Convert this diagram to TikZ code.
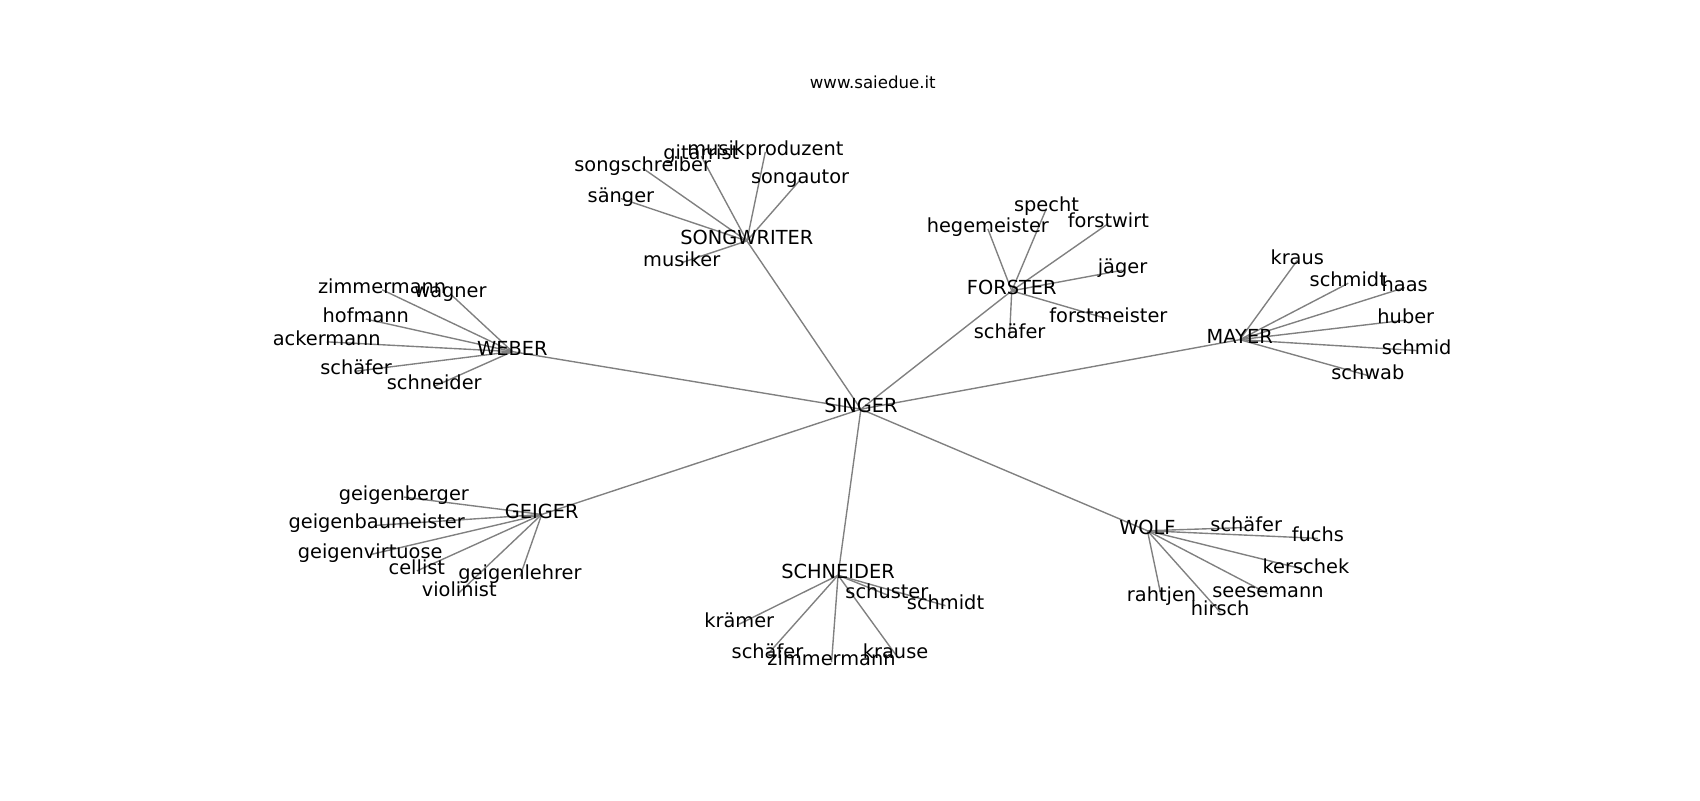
\documentclass[tikz,border=0pt]{standalone}
\usepackage{fontspec}
\setmainfont{DejaVu Sans}
\usepackage{tikz}
\usetikzlibrary{backgrounds}
\definecolor{edgegray}{rgb}{0.5,0.5,0.5}

\begin{document}
\begin{tikzpicture}[x=0.027573cm, y=-0.027573cm,
  lbl/.style={inner sep=0pt, yshift=-0.08cm, text height=0.76em, text depth=0.24em, font=\fontsize{14}{17}\selectfont},
  ttl/.style={inner sep=0pt, font=\fontsize{12}{14}\selectfont},
  edge/.style={draw=edgegray, line width=1pt}]
\useasboundingbox (0,0) rectangle (1566,737);
\node[ttl] (title) at (804,76) {www.saiedue.it};
% hubs
\node[lbl] (singer) at (793,374) {SINGER};
\node[lbl] (songwriter) at (688,219) {SONGWRITER};
\node[lbl] (weber) at (472,321) {WEBER};
\node[lbl] (forster) at (932,265) {FORSTER};
\node[lbl] (mayer) at (1142,310) {MAYER};
\node[lbl] (geiger) at (499,471) {GEIGER};
\node[lbl] (schneider) at (772,527) {SCHNEIDER};
\node[lbl] (wolf) at (1057,486) {WOLF};
% songwriter
\node[lbl] (swProduzent) at (705,137) {musikproduzent};
\node[lbl] (swGitarrist) at (646,141) {gitarrist};
\node[lbl] (swSchreiber) at (592,152) {songschreiber};
\node[lbl] (swAutor) at (737,163) {songautor};
\node[lbl] (swSaenger) at (572,180) {sänger};
\node[lbl] (swMusiker) at (628,239) {musiker};
% weber
\node[lbl] (weZimmermann) at (352,264) {zimmermann};
\node[lbl] (weWagner) at (415,268) {wagner};
\node[lbl] (weHofmann) at (337,291) {hofmann};
\node[lbl] (weAckermann) at (301,312) {ackermann};
\node[lbl] (weSchaefer) at (328,339) {schäfer};
\node[lbl] (weSchneider) at (400,353) {schneider};
% forster
\node[lbl] (foSpecht) at (964,189) {specht};
\node[lbl] (foHegemeister) at (910,208) {hegemeister};
\node[lbl] (foForstwirt) at (1021,203) {forstwirt};
\node[lbl] (foJaeger) at (1034,246) {jäger};
\node[lbl] (foForstmeister) at (1021,291) {forstmeister};
\node[lbl] (foSchaefer) at (930,306) {schäfer};
% mayer
\node[lbl] (maKraus) at (1195,237) {kraus};
\node[lbl] (maSchmidt) at (1242,258) {schmidt};
\node[lbl] (maHaas) at (1294,262) {haas};
\node[lbl] (maHuber) at (1295,292) {huber};
\node[lbl] (maSchmid) at (1305,320) {schmid};
\node[lbl] (maSchwab) at (1260,343) {schwab};
% geiger
\node[lbl] (geBerger) at (372,455) {geigenberger};
\node[lbl] (geBaumeister) at (347,481) {geigenbaumeister};
\node[lbl] (geVirtuose) at (341,508) {geigenvirtuose};
\node[lbl] (geCellist) at (384,523) {cellist};
\node[lbl] (geLehrer) at (479,528) {geigenlehrer};
\node[lbl] (geViolinist) at (423,543) {violinist};
% schneider
\node[lbl] (scSchuster) at (817,545) {schuster};
\node[lbl] (scSchmidt) at (871,555) {schmidt};
\node[lbl] (scKraemer) at (681,572) {krämer};
\node[lbl] (scSchaefer) at (707,600) {schäfer};
\node[lbl] (scZimmermann) at (766,607) {zimmermann};
\node[lbl] (scKrause) at (825,600) {krause};
% wolf
\node[lbl] (woSchaefer) at (1148,483) {schäfer};
\node[lbl] (woFuchs) at (1214,493) {fuchs};
\node[lbl] (woKerschek) at (1203,522) {kerschek};
\node[lbl] (woSeesemann) at (1168,544) {seesemann};
\node[lbl] (woRahtjen) at (1070,548) {rahtjen};
\node[lbl] (woHirsch) at (1124,561) {hirsch};
% edges
\begin{scope}[on background layer]
\draw[edge] (singer.center) -- (songwriter.center);
\draw[edge] (singer.center) -- (weber.center);
\draw[edge] (singer.center) -- (forster.center);
\draw[edge] (singer.center) -- (mayer.center);
\draw[edge] (singer.center) -- (geiger.center);
\draw[edge] (singer.center) -- (schneider.center);
\draw[edge] (singer.center) -- (wolf.center);
\draw[edge] (songwriter.center) -- (swProduzent.center);
\draw[edge] (songwriter.center) -- (swGitarrist.center);
\draw[edge] (songwriter.center) -- (swSchreiber.center);
\draw[edge] (songwriter.center) -- (swAutor.center);
\draw[edge] (songwriter.center) -- (swSaenger.center);
\draw[edge] (songwriter.center) -- (swMusiker.center);
\draw[edge] (weber.center) -- (weZimmermann.center);
\draw[edge] (weber.center) -- (weWagner.center);
\draw[edge] (weber.center) -- (weHofmann.center);
\draw[edge] (weber.center) -- (weAckermann.center);
\draw[edge] (weber.center) -- (weSchaefer.center);
\draw[edge] (weber.center) -- (weSchneider.center);
\draw[edge] (forster.center) -- (foSpecht.center);
\draw[edge] (forster.center) -- (foHegemeister.center);
\draw[edge] (forster.center) -- (foForstwirt.center);
\draw[edge] (forster.center) -- (foJaeger.center);
\draw[edge] (forster.center) -- (foForstmeister.center);
\draw[edge] (forster.center) -- (foSchaefer.center);
\draw[edge] (mayer.center) -- (maKraus.center);
\draw[edge] (mayer.center) -- (maSchmidt.center);
\draw[edge] (mayer.center) -- (maHaas.center);
\draw[edge] (mayer.center) -- (maHuber.center);
\draw[edge] (mayer.center) -- (maSchmid.center);
\draw[edge] (mayer.center) -- (maSchwab.center);
\draw[edge] (geiger.center) -- (geBerger.center);
\draw[edge] (geiger.center) -- (geBaumeister.center);
\draw[edge] (geiger.center) -- (geVirtuose.center);
\draw[edge] (geiger.center) -- (geCellist.center);
\draw[edge] (geiger.center) -- (geLehrer.center);
\draw[edge] (geiger.center) -- (geViolinist.center);
\draw[edge] (schneider.center) -- (scSchuster.center);
\draw[edge] (schneider.center) -- (scSchmidt.center);
\draw[edge] (schneider.center) -- (scKraemer.center);
\draw[edge] (schneider.center) -- (scSchaefer.center);
\draw[edge] (schneider.center) -- (scZimmermann.center);
\draw[edge] (schneider.center) -- (scKrause.center);
\draw[edge] (wolf.center) -- (woSchaefer.center);
\draw[edge] (wolf.center) -- (woFuchs.center);
\draw[edge] (wolf.center) -- (woKerschek.center);
\draw[edge] (wolf.center) -- (woSeesemann.center);
\draw[edge] (wolf.center) -- (woRahtjen.center);
\draw[edge] (wolf.center) -- (woHirsch.center);
\end{scope}
\end{tikzpicture}
\end{document}
